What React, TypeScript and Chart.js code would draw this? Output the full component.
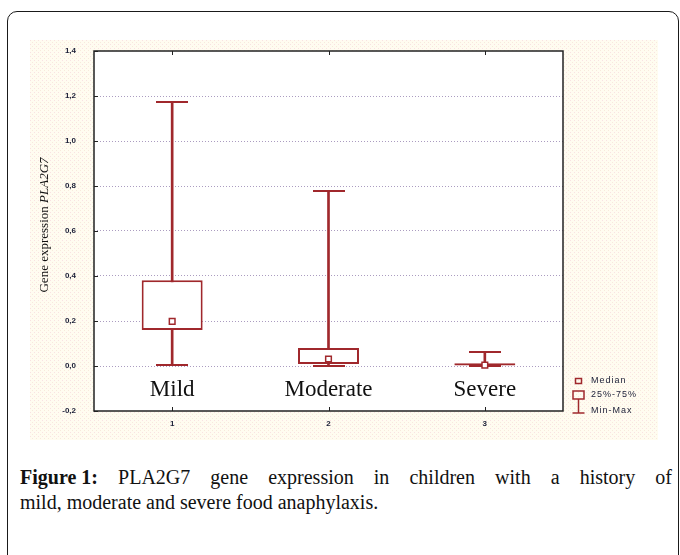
import { useEffect, useRef } from 'react';
import { Chart, registerables } from 'chart.js';

Chart.register(...registerables);

const categories = ['1', '2', '3'];
const groupNames = ['Mild', 'Moderate', 'Severe'];
const minVals = [0.005, 0.0, 0.0];
const q1Vals = [0.16, 0.009, 0.0];
const medianVals = [0.198, 0.031, 0.004];
const q3Vals = [0.381, 0.08, 0.012];
const maxVals = [1.173, 0.776, 0.061];
const yTickValues = [-0.2, 0, 0.2, 0.4, 0.6, 0.8, 1.0, 1.2, 1.4];
const legendLabels = ['Median', '25%-75%', 'Min-Max'];
const yTitlePlain = 'Gene expression ';
const yTitleItalic = 'PLA2G7';
const captionBold = 'Figure 1:';
const captionLine1 = ' PLA2G7 gene expression in children with a history of';
const captionLine2 = 'mild, moderate and severe food anaphylaxis.';

const RED = '#a0282c';
const INK = '#1a1e36';

function makeCap(): HTMLCanvasElement {
  const c = document.createElement('canvas');
  c.width = 32;
  c.height = 2;
  const g = c.getContext('2d')!;
  g.fillStyle = RED;
  g.fillRect(0, 0, 32, 2);
  return c;
}

const decorPlugin = {
  id: 'decor',
  beforeDraw(chart: any) {
    const { ctx, width, height, chartArea: a } = chart;
    ctx.save();
    const pc = document.createElement('canvas');
    pc.width = 4;
    pc.height = 4;
    const p = pc.getContext('2d')!;
    p.fillStyle = '#fffcf0';
    p.fillRect(0, 0, 4, 4);
    p.fillStyle = '#f9e2e2';
    p.fillRect(0, 0, 1, 1);
    p.fillStyle = '#f7eadc';
    p.fillRect(2, 2, 1, 1);
    const pat = ctx.createPattern(pc, 'repeat');
    ctx.fillStyle = pat || '#fffcf0';
    ctx.fillRect(0, 0, width, height);
    ctx.fillStyle = '#ffffff';
    ctx.fillRect(a.left, a.top, a.right - a.left, a.bottom - a.top);
    ctx.restore();
  },
  afterDraw(chart: any) {
    const { ctx, chartArea: a, scales } = chart;
    const xs = scales.x;
    const ys = scales.y;
    ctx.save();
    // frame
    ctx.strokeStyle = '#222';
    ctx.lineWidth = 1.5;
    ctx.strokeRect(a.left, a.top, a.right - a.left, a.bottom - a.top);
    ctx.lineWidth = 1;
    ctx.beginPath();
    yTickValues.forEach((v) => {
      const y = Math.round(ys.getPixelForValue(v)) + 0.5;
      ctx.moveTo(a.left, y);
      ctx.lineTo(a.left + 4, y);
    });
    categories.forEach((_, i) => {
      const x = Math.round(xs.getPixelForValue(i)) + 0.5;
      ctx.moveTo(x, a.top);
      ctx.lineTo(x, a.top + 4);
      ctx.moveTo(x, a.bottom);
      ctx.lineTo(x, a.bottom - 4);
    });
    ctx.stroke();

    // group names inside the plot
    ctx.fillStyle = '#111';
    ctx.font = "23px 'Liberation Serif'";
    ctx.textAlign = 'center';
    ctx.textBaseline = 'alphabetic';
    groupNames.forEach((n, i) => {
      ctx.fillText(n, xs.getPixelForValue(i), a.bottom - 15);
    });

    // y title
    ctx.save();
    ctx.translate(18, 185);
    ctx.rotate(-Math.PI / 2);
    ctx.fillStyle = '#111';
    ctx.textAlign = 'left';
    ctx.font = "13px 'Liberation Serif'";
    const w1 = ctx.measureText(yTitlePlain).width;
    ctx.font = "italic 13px 'Liberation Serif'";
    const w2 = ctx.measureText(yTitleItalic).width;
    const sx = -(w1 + w2) / 2;
    ctx.font = "13px 'Liberation Serif'";
    ctx.fillText(yTitlePlain, sx, 0);
    ctx.font = "italic 13px 'Liberation Serif'";
    ctx.fillText(yTitleItalic, sx + w1, 0);
    ctx.restore();

    // legend
    const lx = a.right + 15.5;
    const b = a.bottom;
    ctx.strokeStyle = RED;
    ctx.lineWidth = 1.5;
    ctx.strokeRect(lx - 3, b - 32.5, 6, 5);
    ctx.strokeRect(lx - 5.5, b - 20, 11, 8);
    ctx.beginPath();
    ctx.moveTo(lx, b - 12);
    ctx.lineTo(lx, b + 2);
    ctx.moveTo(lx - 6, b + 2);
    ctx.lineTo(lx + 6, b + 2);
    ctx.stroke();
    ctx.fillStyle = INK;
    ctx.font = "9px 'Liberation Sans'";
    (ctx as any).letterSpacing = '1px';
    ctx.textAlign = 'left';
    ctx.textBaseline = 'middle';
    const rows = [b - 30, b - 16, b];
    legendLabels.forEach((t, i) => ctx.fillText(t, lx + 12.5, rows[i]));
    ctx.restore();
  },
};

export default function App() {
  const ref = useRef<HTMLCanvasElement>(null);

  useEffect(() => {
    const canvas = ref.current;
    if (!canvas) return;
    const cap = makeCap();
    const chart = new Chart(canvas, {
      type: 'bar',
      data: {
        labels: categories,
        datasets: [
          {
            type: 'bar',
            data: maxVals.map((m, i) => [minVals[i], m]) as any,
            backgroundColor: RED,
            borderWidth: 0,
            barThickness: 2,
            grouped: false,
            order: 4,
          } as any,
          {
            type: 'bar',
            data: q1Vals.map((q, i) => [q, q3Vals[i]]) as any,
            backgroundColor: '#ffffff',
            borderColor: RED,
            borderWidth: 2,
            borderSkipped: false,
            barPercentage: 0.39,
            categoryPercentage: 1,
            grouped: false,
            order: 3,
          } as any,
          {
            type: 'line',
            data: maxVals,
            showLine: false,
            pointStyle: cap,
            pointRadius: 1,
            pointBorderWidth: 0,
            borderWidth: 0,
            order: 2,
          } as any,
          {
            type: 'line',
            data: minVals,
            showLine: false,
            pointStyle: cap,
            pointRadius: 1,
            pointBorderWidth: 0,
            borderWidth: 0,
            order: 2,
          } as any,
          {
            type: 'line',
            data: medianVals,
            showLine: false,
            pointStyle: 'rect',
            pointRadius: 4,
            pointBorderWidth: 1.5,
            pointBorderColor: RED,
            pointBackgroundColor: '#ffffff',
            borderWidth: 0,
            order: 1,
          } as any,
        ],
      },
      options: {
        animation: false,
        responsive: false,
        events: [],
        layout: { padding: { left: 0, top: 11, right: 95, bottom: 0 } },
        plugins: { legend: { display: false }, tooltip: { enabled: false } },
        scales: {
          x: {
            offset: true,
            grid: { display: false, drawTicks: false },
            border: { display: false },
            ticks: {
              color: INK,
              padding: 8,
              font: { family: 'Liberation Sans', size: 8, weight: 'bold' },
            },
            afterFit: (s: any) => {
              s.height = 29;
              s.paddingLeft = 0;
              s.paddingRight = 0;
            },
          },
          y: {
            min: -0.2,
            max: 1.4,
            afterBuildTicks: (s: any) => {
              s.ticks = yTickValues.map((v) => ({ value: v }));
            },
            grid: {
              drawTicks: false,
              lineWidth: 1,
              color: (c: any) =>
                c.tick && (c.tick.value <= -0.19 || c.tick.value >= 1.39)
                  ? 'rgba(0,0,0,0)'
                  : '#ab9cc0',
            },
            border: { display: false, dash: [1, 2] },
            ticks: {
              color: INK,
              padding: 18,
              font: { family: 'Liberation Sans', size: 8, weight: 'bold' },
              callback: (v: any) => Number(v).toFixed(1).replace('.', ','),
            },
            afterFit: (s: any) => {
              s.width = 64;
              s.paddingTop = 0;
              s.paddingBottom = 0;
            },
          },
        },
      },
      plugins: [decorPlugin],
    });
    return () => chart.destroy();
  }, []);

  const capStyle: any = {
    position: 'absolute',
    left: 20,
    width: 652,
    font: "20px 'Liberation Serif'",
    lineHeight: '25px',
    color: '#111',
    whiteSpace: 'nowrap',
  };

  return (
    <div
      style={{
        position: 'fixed',
        left: 0,
        top: 0,
        width: 680,
        height: 555,
        overflow: 'hidden',
        background: '#ffffff',
      }}
    >
      <div
        style={{
          position: 'absolute',
          left: 7,
          top: 11,
          width: 672,
          height: 600,
          boxSizing: 'border-box',
          border: '1.5px solid #1a1a1a',
          borderRadius: 10,
        }}
      />
      <canvas
        ref={ref}
        width={628}
        height={400}
        style={{ position: 'absolute', left: 30, top: 40, width: 628, height: 400 }}
      />
      <div style={{ ...capStyle, top: 465, textAlign: 'justify', textAlignLast: 'justify' }}>
        <b style={{ display: 'inline-block' }}>{captionBold}</b>
        {captionLine1}
      </div>
      <div style={{ ...capStyle, top: 490 }}>{captionLine2}</div>
    </div>
  );
}
